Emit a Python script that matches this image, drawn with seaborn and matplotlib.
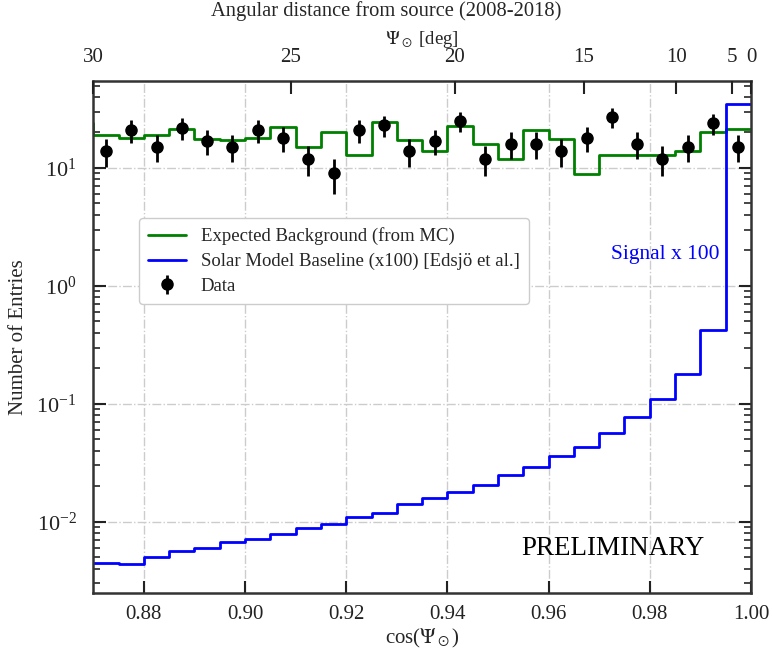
import numpy as np
import pandas as pd
import matplotlib
matplotlib.use("Agg")
import matplotlib.pyplot as plt
import seaborn as sns

# bins in cos(psi), width 0.005
bin_lo = 0.87
bin_width = 0.005

# observed counts per bin
data_counts = [14, 21, 15, 22, 17, 15, 21, 18, 12, 9, 21, 23, 14,
               17, 25, 12, 16, 16, 14, 18, 27, 16, 12, 15, 24, 15]

# expected background from MC (first value is the bin just left of the window)
bkg_counts = [24.0, 18.9, 18.0, 18.9, 21.2, 17.7, 17.1, 18.0, 22.2, 15.0, 20.2, 13.0, 24.6, 17.1,
              13.8, 22.9, 16.0, 11.9, 20.9, 17.7, 8.9, 13.0, 13.0, 13.0, 13.8, 20.2, 21.2]

# solar model signal x100
sig_counts = [0.00448, 0.00441, 0.0050, 0.00562, 0.0060, 0.00676, 0.00711, 0.0078, 0.0089,
              0.0096, 0.01096, 0.01186, 0.01423, 0.0158, 0.0180, 0.0204, 0.0247, 0.0289,
              0.0358, 0.0433, 0.0566, 0.0769, 0.110, 0.180, 0.42, 35.0]

psi_ticks = [30, 25, 20, 15, 10, 5, 0]

n = len(data_counts)
edges = bin_lo + bin_width * np.arange(n + 1)
centers = edges[:-1] + bin_width / 2
bkg_edges = bin_lo - bin_width + bin_width * np.arange(len(bkg_counts) + 1)

sns.set_style("ticks")
plt.rcParams['font.family'] = ['Liberation Serif', 'DejaVu Serif']
plt.rcParams['mathtext.fontset'] = 'stix'

fig = plt.figure(figsize=(7.73, 6.6), dpi=100)
ax = fig.add_axes([0.1207, 0.102, 0.8508, 0.7758])
ax.set_yscale('log')

bkg_df = pd.DataFrame({"x": bkg_edges, "y": bkg_counts + [bkg_counts[-1]]})
sig_df = pd.DataFrame({"x": edges, "y": sig_counts + [sig_counts[-1]]})

sns.lineplot(data=bkg_df, x="x", y="y", drawstyle="steps-post", color="green",
             linewidth=2, estimator=None, sort=False, ax=ax,
             label="Expected Background (from MC)")
sns.lineplot(data=sig_df, x="x", y="y", drawstyle="steps-post", color="blue",
             linewidth=2, estimator=None, sort=False, ax=ax,
             label="Solar Model Baseline (x100) [Edsjö et al.]")
err = np.sqrt(data_counts)
ax.errorbar(centers, data_counts, yerr=err, fmt='o', color='black', markersize=8,
            elinewidth=2, capsize=0, label="Data", zorder=5)

ax.set_xlim(0.87, 1.00)
ax.set_ylim(2.5e-3, 55)
ax.set_xticks([0.88, 0.90, 0.92, 0.94, 0.96, 0.98, 1.00])
ax.set_xticklabels(["0.88", "0.90", "0.92", "0.94", "0.96", "0.98", "1.00"])
ax.grid(True, which='major', color='#cccccc', linestyle='-.', linewidth=1)
ax.tick_params(axis='both', which='major', direction='in', length=9, width=1.5,
               labelsize=15, top=False, right=True, colors='#222222')
ax.tick_params(axis='x', which='major', pad=9)
ax.tick_params(axis='y', which='major', pad=12, labelsize=16)
ax.tick_params(axis='y', which='minor', direction='in', length=5, width=1.2, right=True)
ax.tick_params(axis='x', which='minor', bottom=False, top=False)
for s in ax.spines.values():
    s.set_linewidth(1.8)
    s.set_color('#333333')

ax.set_xlabel(r"cos($\Psi_\odot$)", fontsize=15, labelpad=2)
ax.set_ylabel("Number of Entries", fontsize=15, labelpad=6)

ax.text(0.869, 0.66, "Signal x 100", transform=ax.transAxes, color='blue',
        fontsize=15.5, ha='center', va='center')
ax.text(0.79, 0.087, "PRELIMINARY", transform=ax.transAxes, color='black',
        fontsize=19.5, ha='center', va='center')

leg = ax.legend(loc='upper left', bbox_to_anchor=(0.055, 0.75), fontsize=13.5,
                frameon=True, fancybox=True, framealpha=1, edgecolor='#cccccc',
                handlelength=2.0, borderpad=0.5, labelspacing=0.4)

# top axis in degrees
ax2 = ax.twiny()
ax2.set_xlim(np.cos(np.radians(30)), 1.0)
ax2.set_xticks(np.cos(np.radians(psi_ticks)))
ax2.set_xticklabels([str(p) for p in psi_ticks])
ax2.tick_params(axis='x', direction='in', length=9, width=1.5, labelsize=15,
                colors='#222222', pad=10)
ax2.xaxis.set_minor_locator(matplotlib.ticker.NullLocator())
ax2.set_xlabel(r"$\Psi_\odot$ [deg]", fontsize=13.5, labelpad=3)
for s in ax2.spines.values():
    s.set_visible(False)
fig.text(0.5, 0.984, "Angular distance from source (2008-2018)", fontsize=14.8,
         ha='center', va='center')

fig.savefig("out.png", dpi=100)
